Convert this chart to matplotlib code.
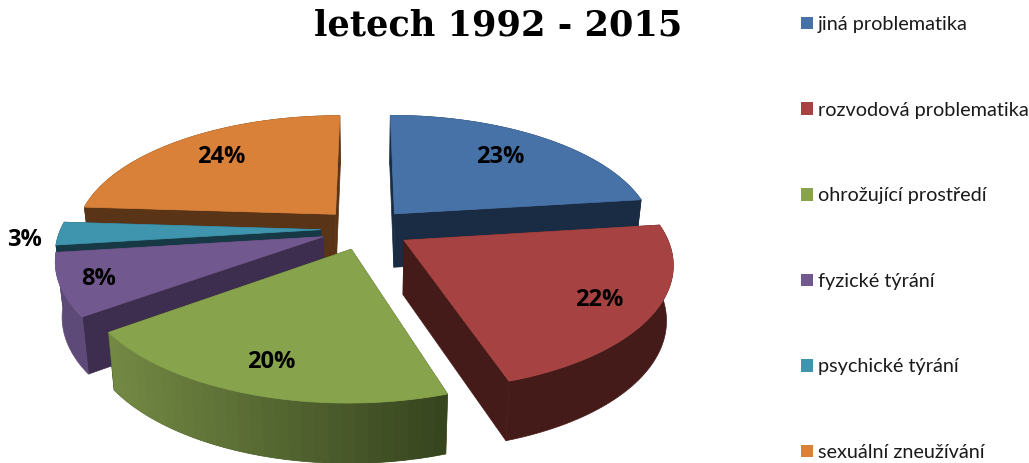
import numpy as np
import matplotlib
matplotlib.use("Agg")
import matplotlib.pyplot as plt
from matplotlib.patches import Polygon, Patch
from matplotlib.colors import to_rgb

title = "letech 1992 - 2015"
categories = ["jiná problematika", "rozvodová problematika", "ohrožující prostředí",
              "fyzické týrání", "psychické týrání", "sexuální zneužívání"]
values = [23, 22, 20, 8, 3, 24]

top_colors = ["#4672A8", "#A64342", "#87A34C", "#71588F", "#4095AE", "#D98139"]
cut_colors = ["#1A2C44", "#451B19", "#3A4820", "#3D2D4E", "#163945", "#5A3417"]
arc_left = ["#1A2C44", "#451B19", "#748A44", "#5E4A78", "#163945", "#5A3417"]
arc_right = ["#1A2C44", "#451B19", "#37451F", "#5E4A78", "#163945", "#5A3417"]
label_frac = [0.70, 0.80, 0.81, 0.86, 1.13, 0.73]
label_nudge_y = [-1, 2, 0, 1, 6, -1]
draw_order = [5, 0, 4, 3, 1, 2]

CX, CY = 365.5, 229.0
RX, RY = 260.0, 120.0
K = 0.17
EXPLODE = 0.172
DEPTH = 54.0
BOTTOM_SCALE = 0.978

fig = plt.figure(figsize=(10.29, 4.63), dpi=100)
ax = fig.add_axes([0, 0, 1, 1])
ax.set_xlim(0, 1029)
ax.set_ylim(463, 0)
ax.axis("off")


def project(xw, yw, down=False):
    s = 1.0 / (1.0 + K * yw)
    x = RX * xw * s
    y = CY - RY * yw * s
    if down:
        y = y + DEPTH * np.sqrt(s)
        x = x * BOTTOM_SCALE
    return CX + x, y


def mix(a, b, t):
    a, b = np.array(to_rgb(a)), np.array(to_rgb(b))
    return tuple(a + (b - a) * t)


total = sum(values)
edges = np.concatenate([[0], np.cumsum(values)]) / total * 2 * np.pi
mids = (edges[:-1] + edges[1:]) / 2


def face(pts, color, z, lw=0.5):
    ax.add_patch(Polygon(pts, closed=True, facecolor=color, edgecolor=color, lw=lw, zorder=z))


for rank, i in enumerate(draw_order):
    z = 2 + rank
    ox, oy = EXPLODE * np.sin(mids[i]), EXPLODE * np.cos(mids[i])
    th = np.linspace(edges[i], edges[i + 1], 61)
    xw, yw = ox + np.sin(th), oy + np.cos(th)
    # radial cut faces
    for t in (edges[i], edges[i + 1]):
        a_t = project(ox, oy)
        b_t = project(ox + np.sin(t), oy + np.cos(t))
        a_b = project(ox, oy, True)
        b_b = project(ox + np.sin(t), oy + np.cos(t), True)
        face([a_t, b_t, b_b, a_b], cut_colors[i], z)
    # outer curved face: one solid base, then overlapping shaded strips if it has a gradient
    tx, ty = project(xw, yw)
    bx, by = project(xw, yw, True)
    span = max(tx.max() - tx.min(), 1)
    face(np.vstack([np.column_stack([tx, ty]), np.column_stack([bx, by])[::-1]]),
         mix(arc_left[i], arc_right[i], 0.5), z)
    if arc_left[i] != arc_right[i]:
        step = 2
        for j in range(0, len(th) - step, step):
            k = min(j + step + 1, len(th) - 1)
            t = (tx[j] - tx.min()) / span
            pts = np.vstack([np.column_stack([tx[j:k + 1], ty[j:k + 1]]),
                             np.column_stack([bx[j:k + 1], by[j:k + 1]])[::-1]])
            ax.add_patch(Polygon(pts, closed=True, facecolor=mix(arc_left[i], arc_right[i], t),
                                 edgecolor="none", zorder=z))
    # top face
    ax_, ay_ = project(ox, oy)
    face(np.vstack([[ax_, ay_], np.column_stack([tx, ty])]), top_colors[i], z + 0.5)
    # percent label
    lx, ly = project(ox + label_frac[i] * np.sin(mids[i]), oy + label_frac[i] * np.cos(mids[i]))
    ax.text(lx, ly + label_nudge_y[i], f"{values[i]}%", ha="center", va="center", fontsize=17,
            fontweight="bold", family="Open Sans", color="black", zorder=20)

ax.text(498, 25, title, ha="center", va="center", fontsize=25.3, fontweight="bold",
        family="DejaVu Serif", color="black")

handles = [Patch(facecolor=c, edgecolor="none", label=n) for c, n in zip(top_colors, categories)]
ax.legend(handles=handles, loc="upper left", bbox_to_anchor=(801 / 1029, 1 - 16 / 463),
          frameon=False, borderaxespad=0, borderpad=0, handlelength=0.6, handleheight=0.6,
          handletextpad=0.25, labelspacing=3.455,
          prop={"family": "Lato", "size": 14.3}, labelcolor="#1a1a1a")

fig.savefig("out.png", dpi=100)
